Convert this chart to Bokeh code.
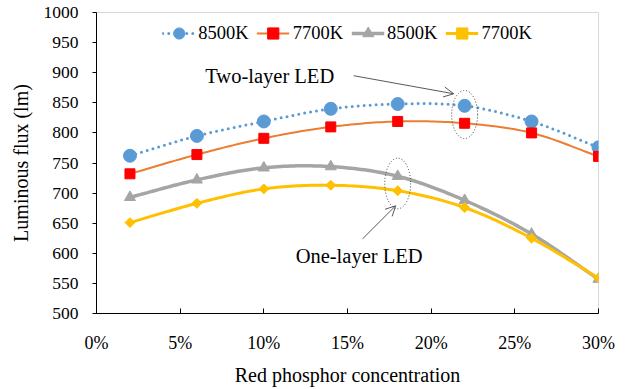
import numpy as np
from bokeh.plotting import figure
from bokeh.models import (NumeralTickFormatter, FixedTicker, Legend, LegendItem,
                          Label, Arrow, OpenHead, Range1d)
from bokeh.embed import file_html
from bokeh.resources import INLINE

# ---- data ----
concentration = [0.02, 0.06, 0.10, 0.14, 0.18, 0.22, 0.26, 0.30]
two_layer_8500K = [762, 795, 819, 840, 848, 845, 819, 776]
two_layer_7700K = [732, 764, 791, 810, 819, 816, 800, 761]
one_layer_8500K = [693, 722, 742, 744, 728, 688, 632, 557]
one_layer_7700K = [651, 683, 707, 713, 704, 676, 625, 559]
y_ticks = [500, 550, 600, 650, 700, 750, 800, 850, 900, 950, 1000]
x_ticks = [0.0, 0.05, 0.10, 0.15, 0.20, 0.25, 0.30]

FONT = "Liberation Serif"


def smooth(xs, ys, n=20):
    """Catmull-Rom style smoothing (like Excel's smoothed line) through the data points."""
    xs = np.asarray(xs, float)
    ys = np.asarray(ys, float)
    px = np.concatenate([[2 * xs[0] - xs[1]], xs, [2 * xs[-1] - xs[-2]]])
    py = np.concatenate([[2 * ys[0] - ys[1]], ys, [2 * ys[-1] - ys[-2]]])
    ox, oy = [], []
    t = np.linspace(0, 1, n, endpoint=False)
    for i in range(1, len(px) - 2):
        p0x, p1x, p2x, p3x = px[i - 1:i + 3]
        p0y, p1y, p2y, p3y = py[i - 1:i + 3]
        for a, b, c, d, out in ((p0x, p1x, p2x, p3x, ox), (p0y, p1y, p2y, p3y, oy)):
            out.extend(0.5 * ((2 * b) + (-a + c) * t + (2 * a - 5 * b + 4 * c - d) * t ** 2
                              + (-a + 3 * b - 3 * c + d) * t ** 3))
    ox.append(xs[-1])
    oy.append(ys[-1])
    return ox, oy


p = figure(width=632, height=389, output_backend="svg", toolbar_location=None,
           x_range=Range1d(0, 0.30), y_range=Range1d(500, 1000),
           min_border_left=96, min_border_right=34, min_border_top=12, min_border_bottom=76)

p.xgrid.visible = False
p.ygrid.visible = False
p.outline_line_color = "#d9d9d9"
p.background_fill_color = "white"
p.border_fill_color = "white"

# axes
p.xaxis.ticker = FixedTicker(ticks=x_ticks)
p.xaxis.formatter = NumeralTickFormatter(format="0%")
p.yaxis.ticker = FixedTicker(ticks=y_ticks)
for ax in (p.xaxis[0], p.yaxis[0]):
    ax.axis_line_color = "black"
    ax.major_tick_line_color = "black"
    ax.minor_tick_line_color = None
    ax.major_label_text_font = FONT
    ax.major_label_text_font_style = "normal"
    ax.major_label_text_color = "black"
    ax.axis_label_text_font = FONT
    ax.axis_label_text_font_size = "20px"
    ax.axis_label_text_font_style = "normal"
    ax.axis_label_text_color = "black"
p.xaxis.major_label_text_font_size = "18px"
p.yaxis.major_label_text_font_size = "17.5px"
p.xaxis.major_tick_in = 5
p.xaxis.major_tick_out = 0
p.xaxis.major_label_standoff = 19
p.xaxis.axis_label = "Red phosphor concentration"
p.xaxis.axis_label_standoff = 8
p.yaxis.major_tick_in = 0
p.yaxis.major_tick_out = 4
p.yaxis.major_label_standoff = 14
p.yaxis.axis_label = "Luminous flux (lm)"
p.yaxis.axis_label_standoff = 9

# series
sx, sy = smooth(concentration, two_layer_8500K)
l1 = p.line(sx, sy, line_color="#5b9bd5", line_width=3, line_dash="0 6", line_cap="round")
m1 = p.scatter(concentration, two_layer_8500K, marker="circle", size=13,
               fill_color="#5b9bd5", line_color="#5b9bd5")

sx, sy = smooth(concentration, two_layer_7700K)
l2 = p.line(sx, sy, line_color="#ed7d31", line_width=2)
m2 = p.scatter(concentration, two_layer_7700K, marker="square", size=10,
               fill_color="#ff0000", line_color="#ff0000")

sx, sy = smooth(concentration, one_layer_8500K)
l3 = p.line(sx, sy, line_color="#a5a5a5", line_width=3.5)
m3 = p.scatter(concentration, one_layer_8500K, marker="triangle", size=11,
               fill_color="#a5a5a5", line_color="#a5a5a5")

sx, sy = smooth(concentration, one_layer_7700K)
l4 = p.line(sx, sy, line_color="#ffc000", line_width=3)
m4 = p.scatter(concentration, one_layer_7700K, marker="square", size=7, angle=np.pi / 4,
               fill_color="#ffc000", line_color="#ffc000")

legend = Legend(items=[
    LegendItem(label="8500K", renderers=[l1, m1]),
    LegendItem(label="7700K", renderers=[l2, m2]),
    LegendItem(label="8500K", renderers=[l3, m3]),
    LegendItem(label="7700K", renderers=[l4, m4]),
], orientation="horizontal", location="top_center",
    label_text_font=FONT, label_text_font_size="18.5px", label_text_font_style="normal",
    label_text_color="black",
    glyph_width=33, glyph_height=28, label_standoff=3, spacing=8,
    padding=0, margin=7, border_line_color=None, background_fill_alpha=0)
p.add_layout(legend, "center")

# annotations: dotted ellipses
p.ellipse(x=[concentration[5]], y=[(two_layer_8500K[5] + two_layer_7700K[5]) / 2],
          width=0.0155, height=80, fill_color=None, line_color="#404040",
          line_width=1, line_dash="1 2")
p.ellipse(x=[concentration[4]], y=[(one_layer_8500K[4] + one_layer_7700K[4]) / 2],
          width=0.0155, height=84, fill_color=None, line_color="#404040",
          line_width=1, line_dash="1 2")

p.add_layout(Label(x=0.065, y=895, text="Two-layer  LED", text_font=FONT,
                   text_font_size="20.5px", text_baseline="middle", text_color="black"))
p.add_layout(Label(x=0.119, y=596, text="One-layer  LED", text_font=FONT,
                   text_font_size="20.5px", text_baseline="middle", text_color="black"))

p.add_layout(Arrow(end=OpenHead(size=10, line_color="#595959", line_width=1),
                   x_start=0.1537, y_start=895, x_end=0.2135, y_end=865,
                   line_color="#595959", line_width=1))
p.add_layout(Arrow(end=OpenHead(size=10, line_color="#595959", line_width=1),
                   x_start=0.159, y_start=624, x_end=0.1788, y_end=679,
                   line_color="#595959", line_width=1))

open("out.html", "w").write(file_html(p, INLINE))
